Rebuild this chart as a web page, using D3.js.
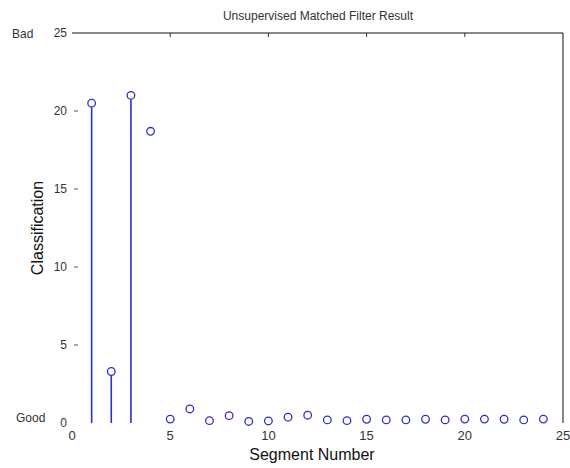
<!DOCTYPE html>
<html>
<head>
<meta charset="utf-8">
<script src="https://cdn.jsdelivr.net/npm/d3@7"></script>
<style>
  body { margin: 0; background: #fff; }
  svg { display: block; }
  text { font-family: "Liberation Sans", Arial, sans-serif; }
</style>
</head>
<body>
<svg id="chart" width="570" height="468"></svg>
<script>
// Segment numbers and the classification score of each segment
const segments = [1,2,3,4,5,6,7,8,9,10,11,12,13,14,15,16,17,18,19,20,21,22,23,24];
const scores = [20.5, 3.3, 21.0, 18.7, 0.25, 0.9, 0.15, 0.47, 0.1, 0.13, 0.37, 0.5,
                0.2, 0.15, 0.24, 0.2, 0.2, 0.24, 0.2, 0.25, 0.25, 0.24, 0.2, 0.25];
// Segments whose stems are drawn
const stemSegments = [1, 2, 3];
const xTicks = [0, 5, 10, 15, 20, 25];
const yTicks = [0, 5, 10, 15, 20, 25];
const title = "Unsupervised Matched Filter Result";
const xLabel = "Segment Number";
const yLabel = "Classification";

const svg = d3.select("#chart");
const x = d3.scaleLinear().domain([0, 25]).range([72, 563]);
const y = d3.scaleLinear().domain([0, 25]).range([423, 33]);
const blue = "#2f2fc8";

// Frame: top edge and right edge
svg.append("line").attr("x1", x(0)).attr("x2", x(25)).attr("y1", y(25)).attr("y2", y(25))
  .attr("stroke", "#111").attr("stroke-width", 1);
svg.append("line").attr("x1", x(25)).attr("x2", x(25)).attr("y1", y(25)).attr("y2", y(0))
  .attr("stroke", "#111").attr("stroke-width", 1);

// Inward ticks along the top edge
svg.selectAll("line.ttick").data(xTicks.slice(1, -1)).join("line")
  .attr("class", "ttick")
  .attr("x1", d => x(d)).attr("x2", d => x(d))
  .attr("y1", y(25)).attr("y2", y(25) + 4)
  .attr("stroke", "#333");

// Left ticks
svg.selectAll("line.ltick").data(yTicks.slice(1, -1)).join("line")
  .attr("class", "ltick")
  .attr("x1", x(0) + 2).attr("x2", x(0) + 6)
  .attr("y1", d => y(d)).attr("y2", d => y(d))
  .attr("stroke", "#555");

// Y tick labels
svg.selectAll("text.ylab").data(yTicks).join("text")
  .attr("class", "ylab")
  .attr("x", x(0) - 5).attr("y", d => y(d) + 4)
  .attr("text-anchor", "end")
  .attr("font-size", 12).attr("fill", "#333")
  .text(d => d);

// X tick labels
svg.selectAll("text.xlab").data(xTicks).join("text")
  .attr("class", "xlab")
  .attr("x", d => x(d)).attr("y", y(0) + 17)
  .attr("text-anchor", "middle")
  .attr("font-size", 13).attr("fill", "#333")
  .text(d => d);

// Bad / Good annotations on the score extremes
svg.append("text").attr("x", 12).attr("y", y(25) + 5)
  .attr("font-size", 12).attr("fill", "#333").text("Bad");
svg.append("text").attr("x", 16).attr("y", y(0) - 1)
  .attr("font-size", 12).attr("fill", "#333").text("Good");

// Stems
const pts = segments.map((s, i) => ({ s, v: scores[i] }));
svg.selectAll("line.stem").data(pts.filter(p => stemSegments.includes(p.s))).join("line")
  .attr("class", "stem")
  .attr("x1", d => x(d.s)).attr("x2", d => x(d.s))
  .attr("y1", y(0)).attr("y2", d => y(d.v) + 4)
  .attr("stroke", blue).attr("stroke-width", 1.6);

// Markers
svg.selectAll("circle.mk").data(pts).join("circle")
  .attr("class", "mk")
  .attr("cx", d => x(d.s)).attr("cy", d => y(d.v))
  .attr("r", 3.8)
  .attr("fill", "none").attr("stroke", blue).attr("stroke-width", 1.3);

// Title and axis labels
svg.append("text").attr("x", 318).attr("y", 20)
  .attr("text-anchor", "middle").attr("font-size", 12).attr("fill", "#333")
  .text(title);
svg.append("text").attr("x", 312).attr("y", 460)
  .attr("text-anchor", "middle").attr("font-size", 16).attr("fill", "#111")
  .text(xLabel);
svg.append("text")
  .attr("transform", `translate(43,${(y(0) + y(25)) / 2}) rotate(-90)`)
  .attr("text-anchor", "middle").attr("font-size", 16).attr("fill", "#111")
  .text(yLabel);
</script>
</body>
</html>
